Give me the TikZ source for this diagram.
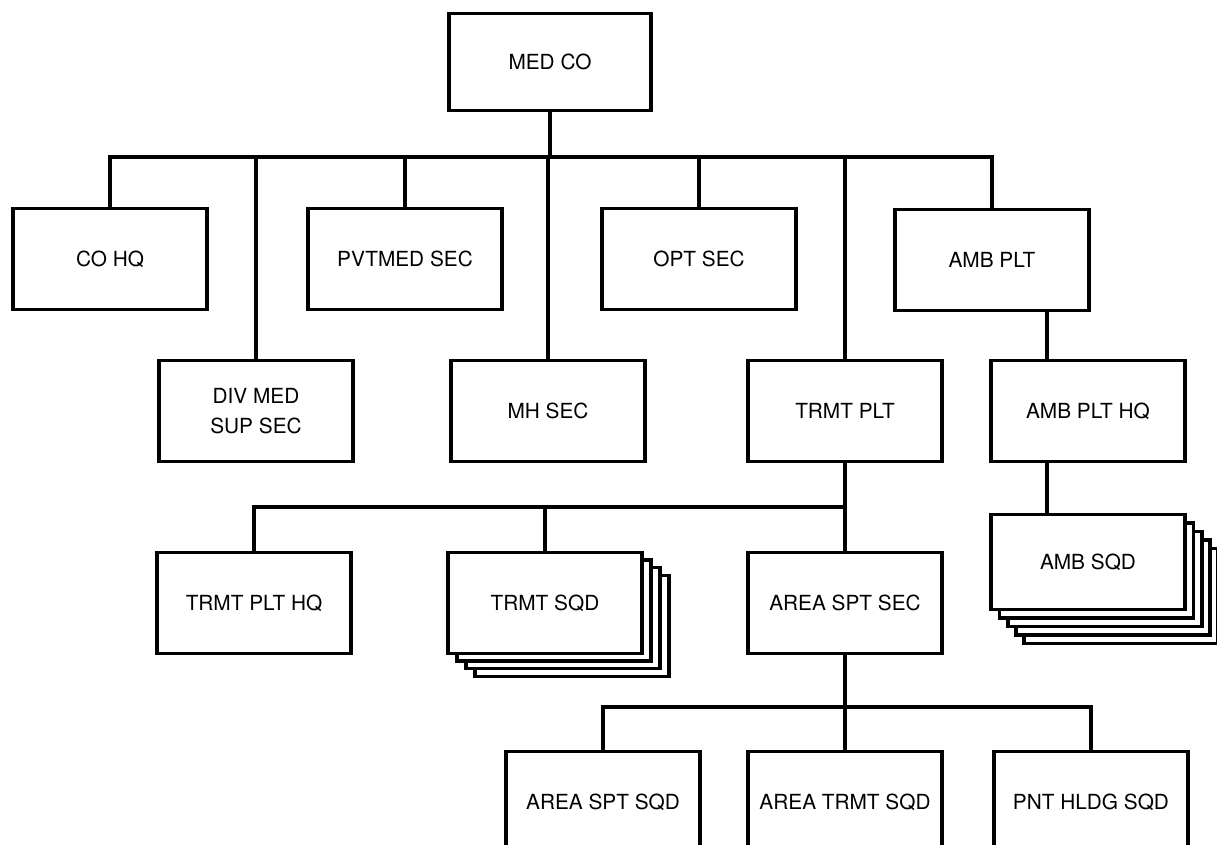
\documentclass[tikz,border=0pt]{standalone}
\usepackage{fontspec}
\setmainfont{TeX Gyre Heros}
\usepackage{tikz}
\usetikzlibrary{backgrounds}
\tikzstyle{unit}=[rectangle,draw=black,fill=white,line width=1.7pt,outer sep=0pt,inner sep=0pt,minimum width=97pt,minimum height=50.5pt,align=center,font=\fontsize{10.4}{15}\selectfont]
\tikzstyle{stack}=[draw=black,fill=white,line width=1.7pt]
\tikzstyle{simple}=[-,line width=1.7pt,line cap=rect]
\tikzstyle{none}=[inner sep=0pt]
\pgfdeclarelayer{edgelayer}
\pgfdeclarelayer{nodelayer}
\pgfsetlayers{edgelayer,nodelayer,main}

\begin{document}
\begin{tikzpicture}[x=0.5pt,y=-0.5pt]
	\useasboundingbox (0,0) rectangle (1217,845);
	\begin{pgfonlayer}{nodelayer}
		\clip (0,0) rectangle (1217,845);
		\node [style=unit, minimum width=101pt, minimum height=48.5pt] (medco) at (550,62) {MED CO};

		\node [style=none] (bus1) at (550,157) {};
		\node [style=unit] (cohq) at (110,259) {CO HQ};
		\node [style=unit] (pvtmed) at (405,259) {PVTMED SEC};
		\node [style=unit] (optsec) at (699,259) {OPT SEC};
		\node [style=unit] (ambplt) at (992,260) {AMB PLT};

		\node [style=unit] (divmed) at (256,411) {DIV MED\\SUP SEC};
		\node [style=unit] (mhsec) at (548,411) {MH SEC};
		\node [style=unit] (trmtplt) at (845,411) {TRMT PLT};
		\node [style=unit] (ambhq) at (1088,411) {AMB PLT HQ};
		\coordinate (ambtap) at (1047,0);

		\node [style=none] (bus2) at (845,507) {};
		\node [style=unit] (trmthq) at (254,603) {TRMT PLT HQ};
		\node [style=unit] (trmtsqd) at (545,603) {TRMT SQD};
		\node [style=unit] (areasec) at (845,603) {AREA SPT SEC};
		\node [style=unit, minimum height=47.5pt] (ambsqd) at (1088,562) {AMB SQD};

		\node [style=none] (bus3) at (845,707) {};
		\node [style=unit] (areasqd) at (603,802) {AREA SPT SQD};
		\node [style=unit] (areatrmt) at (845,802) {AREA TRMT SQD};
		\node [style=unit] (pnthldg) at (1091,802) {PNT HLDG SQD};
	\end{pgfonlayer}
	\begin{pgfonlayer}{edgelayer}
		\clip (0,0) rectangle (1217,845);
		% top level
		\draw [style=simple] (medco) to (bus1.center);
		\draw [style=simple] (cohq.north |- bus1.center) to (ambplt.north |- bus1.center);
		\draw [style=simple] (cohq.north |- bus1.center) to (cohq.north);
		\draw [style=simple] (divmed.north |- bus1.center) to (divmed.north);
		\draw [style=simple] (pvtmed.north |- bus1.center) to (pvtmed.north);
		\draw [style=simple] (mhsec.north |- bus1.center) to (mhsec.north);
		\draw [style=simple] (optsec.north |- bus1.center) to (optsec.north);
		\draw [style=simple] (trmtplt.north |- bus1.center) to (trmtplt.north);
		\draw [style=simple] (ambplt.north |- bus1.center) to (ambplt.north);
		% ambulance platoon
		\draw [style=simple] (ambplt.south -| ambtap) to (ambhq.north -| ambtap);
		\draw [style=simple] (ambhq.south -| ambtap) to (ambsqd.north -| ambtap);
		% treatment platoon
		\draw [style=simple] (trmtplt) to (areasec);
		\draw [style=simple] (trmthq.north |- bus2.center) to (bus2.center);
		\draw [style=simple] (trmthq.north |- bus2.center) to (trmthq.north);
		\draw [style=simple] (trmtsqd.north |- bus2.center) to (trmtsqd.north);
		% area support section
		\draw [style=simple] (areasec) to (areatrmt);
		\draw [style=simple] (areasqd.north |- bus3.center) to (pnthldg.north |- bus3.center);
		\draw [style=simple] (areasqd.north |- bus3.center) to (areasqd.north);
		\draw [style=simple] (pnthldg.north |- bus3.center) to (pnthldg.north);
		% stacked squads
		\draw [style=stack] ([shift={(27,23)}]trmtsqd.south west) rectangle ([shift={(27,23)}]trmtsqd.north east);
		\draw [style=stack] ([shift={(18,15)}]trmtsqd.south west) rectangle ([shift={(18,15)}]trmtsqd.north east);
		\draw [style=stack] ([shift={(9,7.5)}]trmtsqd.south west) rectangle ([shift={(9,7.5)}]trmtsqd.north east);
		\draw [style=stack] ([shift={(33,34)}]ambsqd.south west) rectangle ([shift={(33,34)}]ambsqd.north east);
		\draw [style=stack] ([shift={(25,25.5)}]ambsqd.south west) rectangle ([shift={(25,25.5)}]ambsqd.north east);
		\draw [style=stack] ([shift={(17,17)}]ambsqd.south west) rectangle ([shift={(17,17)}]ambsqd.north east);
		\draw [style=stack] ([shift={(8.5,8.5)}]ambsqd.south west) rectangle ([shift={(8.5,8.5)}]ambsqd.north east);
	\end{pgfonlayer}
\end{tikzpicture}
\end{document}
